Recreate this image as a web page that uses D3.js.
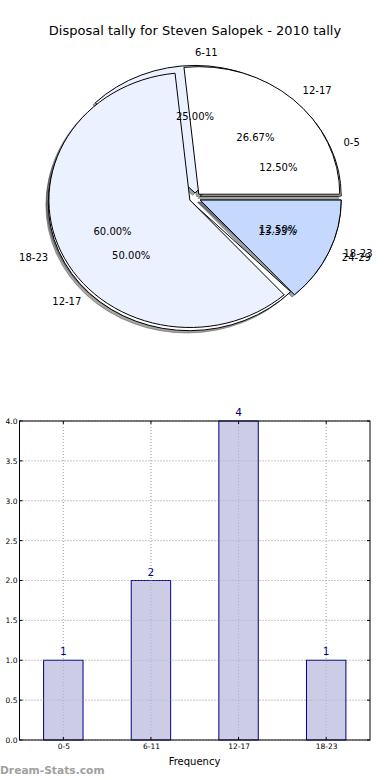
<!DOCTYPE html>
<html><head><meta charset="utf-8">
<script src="https://cdn.jsdelivr.net/npm/d3@7"></script>
<style>body{margin:0;background:#fff}svg{display:block;font-family:"DejaVu Sans",sans-serif}</style>
</head><body>
<script>
const title = "Disposal tally for Steven Salopek - 2010 tally";
const pie1Labels = ["0-5","6-11","12-17","18-23"];
const pie1Values = [1,2,4,1];
const pie2Labels = ["12-17","18-23","24-29"];
const pie2Values = [4,9,2];
const barCategories = ["0-5","6-11","12-17","18-23"];
const barValues = [1,2,4,1];
const yTicks = [0,0.5,1,1.5,2,2.5,3,3.5,4];
const watermark = "Dream-Stats.com";
const xLabel = "Frequency";

const W=390,H=780;
const svg=d3.select("body").append("svg").attr("width",W).attr("height",H);
svg.append("text").attr("x",195).attr("y",34.5).attr("text-anchor","middle").attr("font-size",13).attr("fill","#000").text(title);

// ---- pies ----
const cx=195, cy=198, rx=141, ry=127.5, expl=0.04;
const pie1Colors=["#ffffff","#ebf1ff","#ffffff","#ebf1ff"];
const pie2Colors=["#ffffff","#ebf1ff","#c5d9ff"];
const pieGen=d3.pie().sort(null).startAngle(Math.PI/2).endAngle(Math.PI/2-2*Math.PI);
const arcGen=d3.arc().innerRadius(0).outerRadius(1);
function build(labels,values,colors){
  return pieGen(values).map((d,i)=>{
    const m=(d.startAngle+d.endAngle)/2;
    const ux=Math.sin(m), uy=-Math.cos(m);
    return {d,label:labels[i],color:colors[i],ux,uy,
      ox:cx+expl*rx*ux, oy:cy+expl*ry*uy,
      pct:(d.value/d3.sum(values)*100).toFixed(2)+"%"};
  });
}
const p1=build(pie1Labels,pie1Values,pie1Colors);
const p2=build(pie2Labels,pie2Values,pie2Colors);
const gP=svg.append("g");
function shade(c){const r=d3.rgb(c);return d3.rgb(r.r*0.3,r.g*0.3,r.b*0.3).toString();}
// shadows (below all wedges)
[...p1,...p2].forEach(s=>{
  gP.append("path").attr("d",arcGen(s.d))
    .attr("transform",`translate(${s.ox-2.4},${s.oy+2.3}) scale(${rx},${ry})`)
    .attr("fill",shade(s.color)).attr("fill-opacity",0.5)
    .attr("stroke",shade(s.color)).attr("stroke-opacity",0.5).attr("stroke-width",1).attr("vector-effect","non-scaling-stroke");
});
[...p1,...p2].forEach(s=>{
  gP.append("path").attr("d",arcGen(s.d))
    .attr("transform",`translate(${s.ox},${s.oy}) scale(${rx},${ry})`)
    .attr("fill",s.color).attr("stroke","#000").attr("stroke-width",1).attr("vector-effect","non-scaling-stroke");
});
[...p1,...p2].forEach(s=>{
  const lx=s.ox+1.1*rx*s.ux, ly=s.oy+1.1*ry*s.uy;
  gP.append("text").attr("x",lx).attr("y",ly).attr("dy","0.38em")
    .attr("text-anchor",lx>=cx-0.001?"start":"end").attr("font-size",10).text(s.label);
  gP.append("text").attr("x",s.ox+0.6*rx*s.ux).attr("y",s.oy+0.6*ry*s.uy).attr("dy","0.38em")
    .attr("text-anchor","middle").attr("font-size",10).text(s.pct);
});

// ---- bar chart ----
const L=19.5,R=370,T=421,B=740;
const x=d3.scaleLinear().domain([-0.5,3.5]).range([L,R]);
const y=d3.scaleLinear().domain([0,4]).range([B,T]);
const gB=svg.append("g");
const grid=gB.append("g").attr("stroke","#b8b8b8").attr("stroke-width",1).attr("stroke-dasharray","1,2");
yTicks.forEach(t=>grid.append("line").attr("x1",L).attr("x2",R).attr("y1",y(t)).attr("y2",y(t)));
barCategories.forEach((c,i)=>grid.append("line").attr("x1",x(i)).attr("x2",x(i)).attr("y1",T).attr("y2",B));
const bw=0.45;
gB.selectAll("rect.bar").data(barValues).join("rect").attr("class","bar")
  .attr("x",(d,i)=>x(i-bw/2)).attr("width",x(bw)-x(0)).attr("y",d=>y(d)).attr("height",d=>y(0)-y(d))
  .attr("fill","#cccce6").attr("stroke","#000080").attr("stroke-width",1);
gB.selectAll("text.val").data(barValues).join("text").attr("class","val")
  .attr("x",(d,i)=>x(i)).attr("y",d=>y(d)-5).attr("text-anchor","middle").attr("font-size",10.5).attr("fill","#000080").text(d=>d);
const grid2=gB.append("g").attr("stroke","#a0a0a0").attr("stroke-opacity",0.6).attr("stroke-width",1).attr("stroke-dasharray","1,2");
yTicks.forEach(t=>grid2.append("line").attr("x1",L).attr("x2",R).attr("y1",y(t)).attr("y2",y(t)));
barCategories.forEach((c,i)=>grid2.append("line").attr("x1",x(i)).attr("x2",x(i)).attr("y1",T).attr("y2",B));
gB.append("rect").attr("x",L).attr("y",T).attr("width",R-L).attr("height",B-T).attr("fill","none").attr("stroke","#000").attr("stroke-width",1);
const tk=gB.append("g").attr("stroke","#000").attr("stroke-width",1);
yTicks.forEach(t=>{tk.append("line").attr("x1",L).attr("x2",L+3).attr("y1",y(t)).attr("y2",y(t));
  tk.append("line").attr("x1",R).attr("x2",R-3).attr("y1",y(t)).attr("y2",y(t));});
barCategories.forEach((c,i)=>{tk.append("line").attr("x1",x(i)).attr("x2",x(i)).attr("y1",B).attr("y2",B-3);
  tk.append("line").attr("x1",x(i)).attr("x2",x(i)).attr("y1",T).attr("y2",T+3);});
const yAxis=d3.axisLeft(y).tickValues(yTicks).tickFormat(d3.format(".1f")).tickSize(0).tickPadding(2);
const ya=gB.append("g").attr("transform",`translate(${L},0)`).call(yAxis);
ya.select(".domain").remove();
ya.selectAll("text").attr("font-size",7.5).attr("font-family","DejaVu Sans").attr("fill","#000");
const xAxis=d3.axisBottom(x).tickValues([0,1,2,3]).tickFormat(i=>barCategories[i]).tickSize(0).tickPadding(4);
const xa=gB.append("g").attr("transform",`translate(0,${B})`).call(xAxis);
xa.select(".domain").remove();
xa.selectAll("text").attr("font-size",7.5).attr("font-family","DejaVu Sans").attr("fill","#000");
svg.append("text").attr("x",194.5).attr("y",764.5).attr("text-anchor","middle").attr("font-size",10).text(xLabel);
svg.append("text").attr("x",0).attr("y",774).attr("font-size",10.7).attr("font-weight","bold").attr("fill","#a0a0a0").text(watermark);
</script>
</body></html>
